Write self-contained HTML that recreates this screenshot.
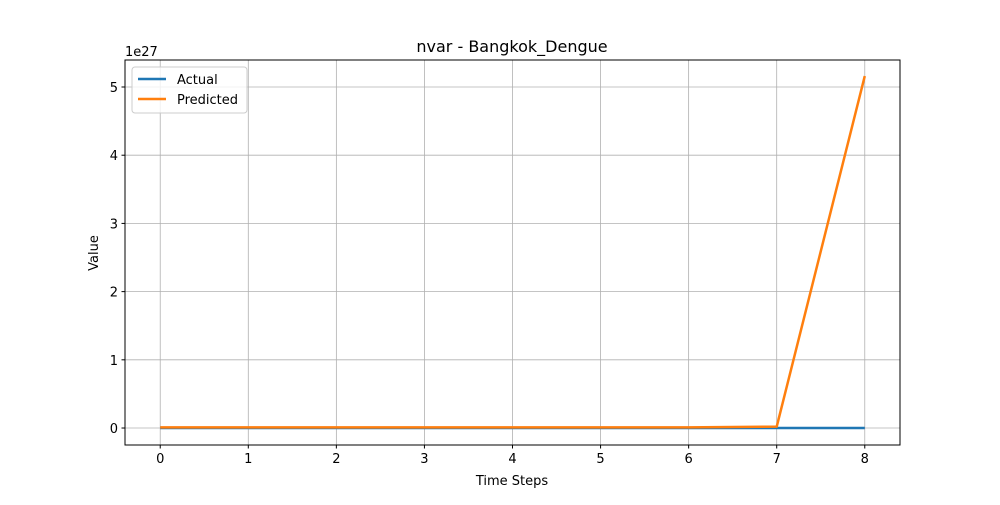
<!DOCTYPE html>
<html><head><meta charset="utf-8"><style>
body{margin:0;background:#fff;font-family:"Liberation Sans","DejaVu Sans",sans-serif;}
svg text{font-family:"DejaVu Sans","Liberation Sans",sans-serif;font-size:13px;fill:#000}
</style></head><body>
<svg id="chart" width="1000" height="500">
<rect width="1000" height="500" fill="#fff"/>
<g id="grid"></g><g id="ticks"></g><g id="lines"></g>
<rect x="125" y="60" width="775" height="385" fill="none" stroke="#000" stroke-width="1"/>
<text x="512" y="52" text-anchor="middle" style="font-size:16px">nvar - Bangkok_Dengue</text>
<text x="512" y="485" text-anchor="middle">Time Steps</text>
<text x="98" y="253" text-anchor="middle" transform="rotate(-90 98 253)">Value</text>
<text x="125" y="56">1e27</text>
<g>
<rect x="132" y="67" width="115" height="46" rx="3" fill="#fff" fill-opacity="0.8" stroke="#ccc"/>
<line x1="138" y1="79" x2="166" y2="79" stroke="#1f77b4" stroke-width="2.5"/>
<text x="177" y="84">Actual</text>
<line x1="138" y1="99" x2="166" y2="99" stroke="#ff7f0e" stroke-width="2.5"/>
<text x="177" y="104">Predicted</text>
</g>
</svg>
<script>
const steps=[0,1,2,3,4,5,6,7,8];
const actual=[0,0,0,0,0,0,0,0,0];
const predicted=[0.01,0.01,0.01,0.01,0.01,0.01,0.01,0.02,5.16];
const xTicks=[0,1,2,3,4,5,6,7,8];
const yTicks=[0,1,2,3,4,5];
const L=125,R=900,T=60,B=445,xmin=-0.4,xmax=8.4,ymin=-0.249,ymax=5.396;
const sx=v=>L+(v-xmin)/(xmax-xmin)*(R-L);
const sy=v=>B-(v-ymin)/(ymax-ymin)*(B-T);
const NS="http://www.w3.org/2000/svg";
const g=document.getElementById('grid'),tk=document.getElementById('ticks'),ln=document.getElementById('lines');
function mk(tag,a,p){const e=document.createElementNS(NS,tag);for(const k in a)e.setAttribute(k,a[k]);p.appendChild(e);return e;}
xTicks.forEach(t=>{const x=sx(t);
const gl=mk('line',{x1:x,x2:x,y1:T,y2:B,stroke:'#b0b0b0','stroke-width':0.8},g);


mk('line',{x1:x,x2:x,y1:B,y2:B+3.5,stroke:'#000'},tk);
const tx=mk('text',{x:x,y:B+18,'text-anchor':'middle'},tk);tx.textContent=t;

});
yTicks.forEach(t=>{const y=sy(t);
const gl=mk('line',{x1:L,x2:R,y1:y,y2:y,stroke:'#b0b0b0','stroke-width':0.8},g);


mk('line',{x1:L-3.5,x2:L,y1:y,y2:y,stroke:'#000'},tk);
const tx=mk('text',{x:L-7,y:y+5,'text-anchor':'end'},tk);tx.textContent=t;

});
function series(vals,color,name){const p=mk('polyline',{points:vals.map((v,i)=>sx(steps[i])+','+sy(v)).join(' '),fill:'none',stroke:color,'stroke-width':2.5,'stroke-linejoin':'round'},ln);

}
series(actual,'#1f77b4','actual-line');
series(predicted,'#ff7f0e','predicted-line');
</script>
</body></html>
